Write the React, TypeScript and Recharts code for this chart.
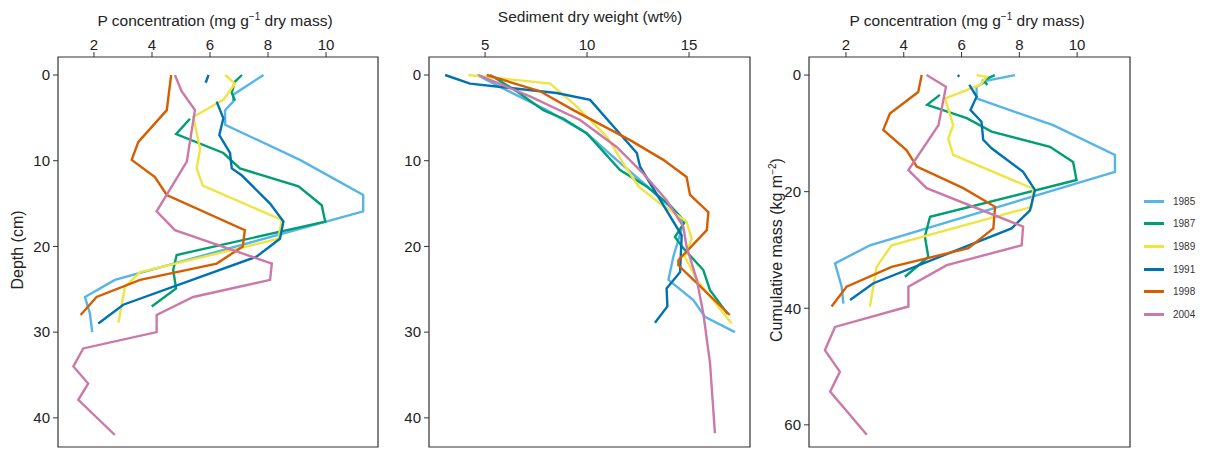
import { ScatterChart, Scatter, XAxis, YAxis, ReferenceArea } from "recharts";

type Pt = [number, number];

const years = ["1985", "1987", "1989", "1991", "1998", "2004"];
const colors = ["#56B4E9", "#009E73", "#F0E442", "#0072B2", "#D55E00", "#CC79A7"];

// panel 1: P concentration vs depth (cm)
const conc1985: Pt[] = [[7.84, 0], [6.8, 2.3], [6.8, 3.1], [6.52, 4.1], [6.52, 5.8], [9.1, 9.9], [11.28, 14], [11.28, 15.9], [2.72, 23.9], [1.69, 25.9], [1.86, 27.8], [1.94, 30]];
const conc1987a: Pt[] = [[7.1, 0], [6.85, 0.8], [6.75, 2.1], [6.86, 3.0]];
const conc1987b: Pt[] = [[5.31, 5.1], [4.83, 6.9], [6.46, 9.1], [7.03, 10.9], [9.05, 13], [9.85, 15.2], [9.97, 17.1], [4.85, 21.0], [4.73, 22.75], [4.83, 24.9], [3.99, 27]];
const conc1989: Pt[] = [[6.52, 0], [6.86, 1.0], [6.46, 2.9], [6.14, 3.5], [5.42, 4.9], [5.66, 8.6], [5.54, 10.9], [5.75, 12.9], [8.47, 16.9], [8.36, 19.1], [3.59, 23], [3.07, 24.7], [2.84, 28.9]];
const conc1991a: Pt[] = [[5.95, 0], [5.85, 0.9]];
const conc1991b: Pt[] = [[6.23, 3.1], [6.46, 5.05], [6.32, 7.0], [6.69, 9.1], [6.75, 10.9], [7.09, 11.7], [8.07, 15.0], [8.53, 17.1], [8.41, 19.1], [7.6, 21.2], [3.01, 26.8], [2.15, 29]];
const conc1998: Pt[] = [[4.66, 0], [4.51, 4.1], [3.53, 7.8], [3.3, 9.9], [4.1, 11.9], [4.51, 14], [7.2, 18.1], [7.13, 20], [6.23, 22], [3.59, 23.9], [2.09, 25.9], [1.54, 28]];
const conc2004: Pt[] = [[4.79, 0], [5.02, 1.9], [5.48, 4.1], [5.2, 10.1], [4.16, 15.9], [4.79, 18.1], [8.13, 22], [8.07, 23.9], [5.42, 25.9], [4.16, 28], [4.16, 30], [1.63, 31.9], [1.29, 34], [1.8, 36], [1.46, 37.9], [2.72, 42]];

// panel 2: sediment dry weight (wt%) vs depth (cm)
const dw1985: Pt[] = [[4.6, 0], [5.74, 1.4], [8.02, 4.1], [9.98, 6.8], [11.45, 9.9], [12.76, 12.6], [14.4, 16.1], [14.72, 17.3], [14.23, 21.2], [13.99, 23.9], [15.21, 26.25], [15.78, 28.2], [17.25, 30]];
const dw1987: Pt[] = [[5.25, 0], [6.55, 1.9], [7.86, 4.1], [8.84, 5.1], [9.98, 6.8], [11.62, 11.1], [12.92, 13], [14.07, 15.2], [14.8, 17.1], [14.31, 18.9], [14.72, 20.2], [15.7, 22.75], [16.03, 25.1], [16.9, 27.9]];
const dw1989: Pt[] = [[4.18, 0], [8.19, 1.0], [9.5, 3.7], [10.97, 7.2], [11.78, 10.3], [12.52, 13], [13.58, 15], [14.88, 17.1], [15.13, 19.1], [14.8, 21.2], [15.38, 23.9], [17.09, 29]];
const dw1991: Pt[] = [[3.04, 0], [4.26, 1.0], [8.51, 2.1], [10.15, 2.9], [12.44, 9.1], [12.6, 10.7], [14.64, 18.7], [14.56, 23], [13.9, 24.9], [13.94, 27], [13.33, 28.9]];
const dw1998: Pt[] = [[5.08, 0], [7.7, 1.9], [9.33, 4.1], [12.11, 7.6], [13.74, 9.9], [14.88, 11.9], [15.05, 14], [15.95, 16], [15.87, 18.1], [14.48, 21.6], [14.48, 22.2], [17.0, 28]];
const dw2004: Pt[] = [[4.67, 0], [7.2, 2.5], [9.66, 5.25], [11.45, 8.4], [12.76, 11.5], [13.9, 14.6], [14.72, 17.7], [14.88, 20], [15.38, 23.9], [15.7, 27.8], [16.03, 33.6], [16.27, 41.8]];

// panel 3: P concentration vs cumulative mass (kg m-2)
const mass1985: Pt[] = [[7.85, 0], [6.92, 0.9], [6.52, 2], [6.52, 4], [9.17, 8.6], [11.31, 13.7], [11.31, 16.6], [2.83, 29.2], [1.62, 32.3], [1.85, 36.3], [1.91, 39.2]];
const mass1987a: Pt[] = [[7.15, 0], [6.75, 0.9], [6.9, 1.7]];
const mass1987b: Pt[] = [[5.25, 3.4], [4.81, 5.1], [6.18, 7.4], [7.04, 9.7], [9.06, 12.3], [9.86, 14.9], [9.98, 18], [4.91, 24.3], [4.73, 27.7], [4.85, 31.2], [4.04, 34.6]];
const mass1989: Pt[] = [[6.52, 0], [6.87, 0.3], [6.64, 1.7], [5.43, 4], [5.71, 8.6], [5.54, 10.9], [5.71, 13.7], [8.48, 19.5], [8.43, 22.6], [3.58, 29.2], [3.06, 32.9], [2.83, 39.7]];
const mass1991a: Pt[] = [[5.92, 0], [5.87, 0.3]];
const mass1991b: Pt[] = [[6.27, 1.7], [6.52, 3.7], [6.31, 6], [6.69, 8], [6.75, 11.1], [7.05, 12.6], [8.13, 16.6], [8.54, 19.7], [8.37, 23.2], [7.73, 26.3], [2.95, 35.7], [2.14, 38.6]];
const mass1998: Pt[] = [[4.62, 0], [4.5, 2.9], [3.52, 6.6], [3.29, 9.4], [4.1, 12.9], [4.45, 15.7], [6.06, 19.4], [7.16, 22.6], [7.1, 26.3], [6.24, 29.7], [3.58, 32.9], [2.02, 36.3], [1.5, 39.7]];
const mass2004: Pt[] = [[4.79, 0], [5.46, 2], [5.2, 8.6], [4.16, 16.3], [4.79, 19.4], [8.13, 26], [8.08, 29.2], [5.49, 32.6], [4.16, 36.3], [4.16, 39.7], [1.62, 43.2], [1.27, 47.2], [1.79, 50.9], [1.45, 54.3], [2.72, 61.7]];

const concTicks = [2, 4, 6, 8, 10];
const dwTicks = [5, 10, 15];
const depthTicks = [0, 10, 20, 30, 40];
const massTicks = [0, 20, 40, 60];

const FONT = "'Liberation Sans', Arial, sans-serif";

type Series = { pts: Pt[]; color: string };

const toObj = (pts: Pt[]) => pts.map(([x, y]) => ({ x, y }));
const noDot = () => <g />;

type PanelProps = {
  left: number;
  width: number;
  yWidth: number;
  marginRight: number;
  xDomain: [number, number];
  xTicks: number[];
  yDomain: [number, number];
  yTicks: number[];
  series: Series[];
};

function Panel({ left, width, yWidth, marginRight, xDomain, xTicks, yDomain, yTicks, series }: PanelProps) {
  const tick = { fill: "#222", fontSize: 15, fontFamily: FONT };
  return (
    <div style={{ position: "absolute", left, top: 0 }}>
      <ScatterChart width={width} height={453} margin={{ top: 0, right: marginRight, bottom: 6, left: 0 }}>
        <XAxis
          type="number"
          dataKey="x"
          orientation="top"
          domain={xDomain}
          allowDataOverflow
          ticks={xTicks}
          height={57}
          axisLine={false}
          tickLine={{ stroke: "#333" }}
          tickSize={5}
          tickMargin={2}
          tick={tick}
        />
        <YAxis
          type="number"
          dataKey="y"
          reversed
          domain={yDomain}
          allowDataOverflow
          ticks={yTicks}
          width={yWidth}
          axisLine={false}
          tickLine={{ stroke: "#333" }}
          tickSize={5}
          tickMargin={3}
          tick={tick}
        />
        <ReferenceArea
          x1={xDomain[0]}
          x2={xDomain[1]}
          y1={yDomain[0]}
          y2={yDomain[1]}
          fill="none"
          stroke="#333"
          strokeWidth={1.2}
        />
        {series.map((s, i) => (
          <Scatter
            key={i}
            data={toObj(s.pts)}
            fill={s.color}
            line={{ stroke: s.color, strokeWidth: 2.4 }}
            shape={noDot}
            isAnimationActive={false}
          />
        ))}
      </ScatterChart>
    </div>
  );
}

const [c85, c87, c89, c91, c98, c04] = colors;

const panel1: Series[] = [
  { pts: conc1985, color: c85 },
  { pts: conc1987a, color: c87 },
  { pts: conc1987b, color: c87 },
  { pts: conc1989, color: c89 },
  { pts: conc1991a, color: c91 },
  { pts: conc1991b, color: c91 },
  { pts: conc1998, color: c98 },
  { pts: conc2004, color: c04 },
];
const panel2: Series[] = [
  { pts: dw1985, color: c85 },
  { pts: dw1987, color: c87 },
  { pts: dw1989, color: c89 },
  { pts: dw1991, color: c91 },
  { pts: dw1998, color: c98 },
  { pts: dw2004, color: c04 },
];
const panel3: Series[] = [
  { pts: mass1985, color: c85 },
  { pts: mass1987a, color: c87 },
  { pts: mass1987b, color: c87 },
  { pts: mass1989, color: c89 },
  { pts: mass1991a, color: c91 },
  { pts: mass1991b, color: c91 },
  { pts: mass1998, color: c98 },
  { pts: mass2004, color: c04 },
];

const title: React.CSSProperties = {
  position: "absolute",
  top: 7,
  width: 400,
  textAlign: "center",
  fontSize: 15.5,
  lineHeight: "20px",
  color: "#222",
};

const yLabel: React.CSSProperties = {
  position: "absolute",
  width: 300,
  height: 20,
  textAlign: "center",
  fontSize: 16,
  lineHeight: "20px",
  color: "#222",
  transform: "rotate(-90deg)",
};

export default function App() {
  return (
    <div style={{ position: "absolute", left: 0, top: 0, width: 1210, height: 453, background: "#fff", fontFamily: FONT }}>
      <Panel left={0} width={400} yWidth={58} marginRight={22} xDomain={[0.76, 11.79]} xTicks={concTicks} yDomain={[-2.1, 43.4]} yTicks={depthTicks} series={panel1} />
      <Panel left={380} width={390} yWidth={49} marginRight={20} xDomain={[2.25, 17.99]} xTicks={dwTicks} yDomain={[-2.1, 43.4]} yTicks={depthTicks} series={panel2} />
      <Panel left={760} width={390} yWidth={49} marginRight={20} xDomain={[0.72, 11.83]} xTicks={concTicks} yDomain={[-3.1, 63.8]} yTicks={massTicks} series={panel3} />

      <div style={{ ...title, left: 15 }}>
        P concentration (mg g<sup style={{ fontSize: 10 }}>−1</sup> dry mass)
      </div>
      <div style={{ ...title, left: 390 }}>Sediment dry weight (wt%)</div>
      <div style={{ ...title, left: 767 }}>
        P concentration (mg g<sup style={{ fontSize: 10 }}>−1</sup> dry mass)
      </div>

      <div style={{ ...yLabel, left: 18 - 150, top: 240 }}>Depth (cm)</div>
      <div style={{ ...yLabel, left: 773 - 150, top: 240 }}>
        Cumulative mass (kg m<sup style={{ fontSize: 10 }}>−2</sup>)
      </div>

      <div style={{ position: "absolute", left: 1144, top: 190 }}>
        {years.map((y, i) => (
          <div key={y} style={{ display: "flex", alignItems: "center", height: 22.6 }}>
            <div style={{ width: 20, height: 3, background: colors[i] }} />
            <span style={{ marginLeft: 9, fontSize: 10, color: "#333" }}>{y}</span>
          </div>
        ))}
      </div>
    </div>
  );
}
